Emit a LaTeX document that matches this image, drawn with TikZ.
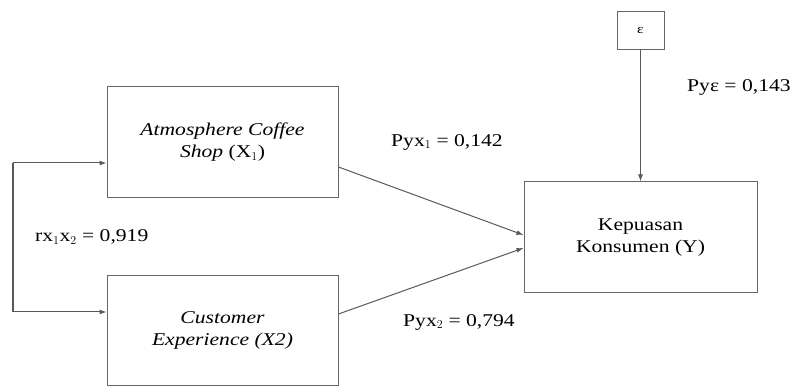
\documentclass[tikz,border=0pt]{standalone}
\usepackage{fontspec}
\setmainfont{Liberation Serif}[FakeStretch=1.2]
\usetikzlibrary{arrows.meta}
\begin{document}
\begin{tikzpicture}[x=1pt,y=-1pt,
  box/.style={draw=black!60,line width=1pt,inner sep=0pt,align=center,font=\fontsize{18}{22}\selectfont},
  conn/.style={draw=black!65,line width=1pt,-{Latex[length=7pt,width=5pt]}},
  lbl/.style={font=\fontsize{18}{22}\selectfont,inner sep=0pt,anchor=west}]
\useasboundingbox (0,0) rectangle (796,387);
\node[box,minimum width=231pt,minimum height=111pt] (x1) at (222.5,142.5) {\itshape Atmosphere Coffee\\\itshape Shop \upshape(X$_1$)};
\node[box,minimum width=231pt,minimum height=110pt,anchor=north] (x2) at (222.5,275) {\itshape Customer\\\itshape Experience (X2)};
\node[box,minimum width=233pt,minimum height=111pt] (y) at (640.5,237.5) {Kepuasan\\Konsumen (Y)};
\node[box,minimum width=47pt,minimum height=38pt] (e) at (640.5,31) {\fontsize{13}{15}\selectfont ε};
\coordinate (lt) at (13,163);
\coordinate (lb) at (13,312);
\draw[conn] (lt) -- (lt -| x1.west);
\draw[conn] (lb) -- (lb -| x2.west);
\draw[draw=black!65,line width=1.3pt] (lt) -- (lb);
\draw[conn] (x1.east |- 0,167) -- (y.west |- 0,235);
\draw[conn] (x2.east |- 0,314) -- (y.west |- 0,248);
\draw[conn] (e.south) -- (y.north);
\node[lbl] (r) at (35,237) {rx$_1$x$_2$ = 0,919};
\node[lbl] (p1) at (391,142) {Pyx$_1$ = 0,142};
\node[lbl] (p2) at (403,322) {Pyx$_2$ = 0,794};
\node[lbl] (pe) at (687,87) {Pyε = 0,143};
\end{tikzpicture}
\end{document}
